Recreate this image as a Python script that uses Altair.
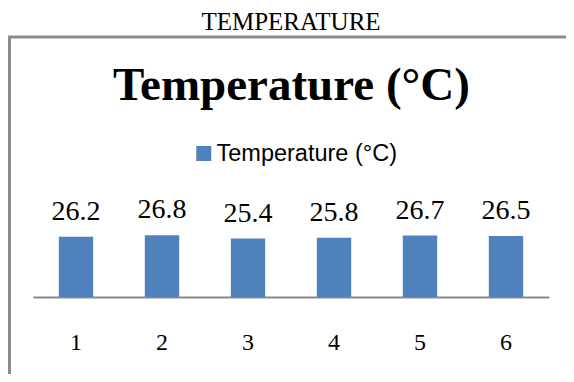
import altair as alt
import pandas as pd

categories = ["1", "2", "3", "4", "5", "6"]
values = [26.2, 26.8, 25.4, 25.8, 26.7, 26.5]
series_name = "Temperature (°C)"
outer_title = "TEMPERATURE"
chart_title = "Temperature (°C)"

df = pd.DataFrame({"cat": categories, "val": values, "series": [series_name] * len(categories)})
one = pd.DataFrame({"t": [outer_title], "c": [chart_title]})

W, H = 516, 69

base = alt.Chart(df)

bars = base.mark_bar(color="#4F81BD").encode(
    x=alt.X("cat:N", sort=categories,
            scale=alt.Scale(paddingInner=0.6, paddingOuter=0.3),
            axis=alt.Axis(title=None, labelAngle=0, ticks=False, tickSize=0, grid=False,
                          domainColor="#898989", domainWidth=2,
                          labelFont="Liberation Serif", labelFontSize=24, labelColor="#000000",
                          labelBaseline="alphabetic", labelPadding=52)),
    y=alt.Y("val:Q", scale=alt.Scale(domain=[0, 30]), axis=None),
    color=alt.Color("series:N", scale=alt.Scale(range=["#4F81BD"]),
                    legend=alt.Legend(orient="none", legendX=159, legendY=-86.25, title=None,
                                      symbolType="square", symbolSize=225, symbolStrokeWidth=0,
                                      labelFont="Liberation Sans",
                                      labelFontSize=23.5, labelLimit=400,
                                      labelColor="#000000", labelOffset=1, padding=0)),
)

labels = base.mark_text(font="Liberation Serif", fontSize=28, baseline="alphabetic",
                        dy=-17, color="#000000").encode(
    x=alt.X("cat:N", sort=categories),
    y=alt.Y("val:Q"),
    text=alt.Text("val:Q", format=".1f"),
)

box = alt.Chart(one).mark_rect(filled=False, stroke="#8c8c8c", strokeWidth=3).encode(
    x=alt.value(-23.5), x2=alt.value(620), y=alt.value(-191), y2=alt.value(300)
)

t_outer = alt.Chart(one).mark_text(font="Liberation Serif", fontSize=25, baseline="alphabetic",
                                   align="center", color="#000000").encode(
    x=alt.value(258), y=alt.value(-198), text="t:N")

t_main = alt.Chart(one).mark_text(font="Liberation Serif", fontSize=47, fontWeight="bold",
                                  baseline="alphabetic", align="center", color="#000000").encode(
    x=alt.value(258.5), y=alt.value(-128), text="c:N")

chart = alt.layer(box, t_outer, t_main, bars, labels).properties(
    width=W, height=H,
    autosize=alt.AutoSizeParams(type="none"),
    padding={"left": 25, "top": 220, "right": 17, "bottom": 77},
).configure_view(strokeWidth=0)

chart.save("out.html", embed_options={"renderer": "svg", "actions": False})
